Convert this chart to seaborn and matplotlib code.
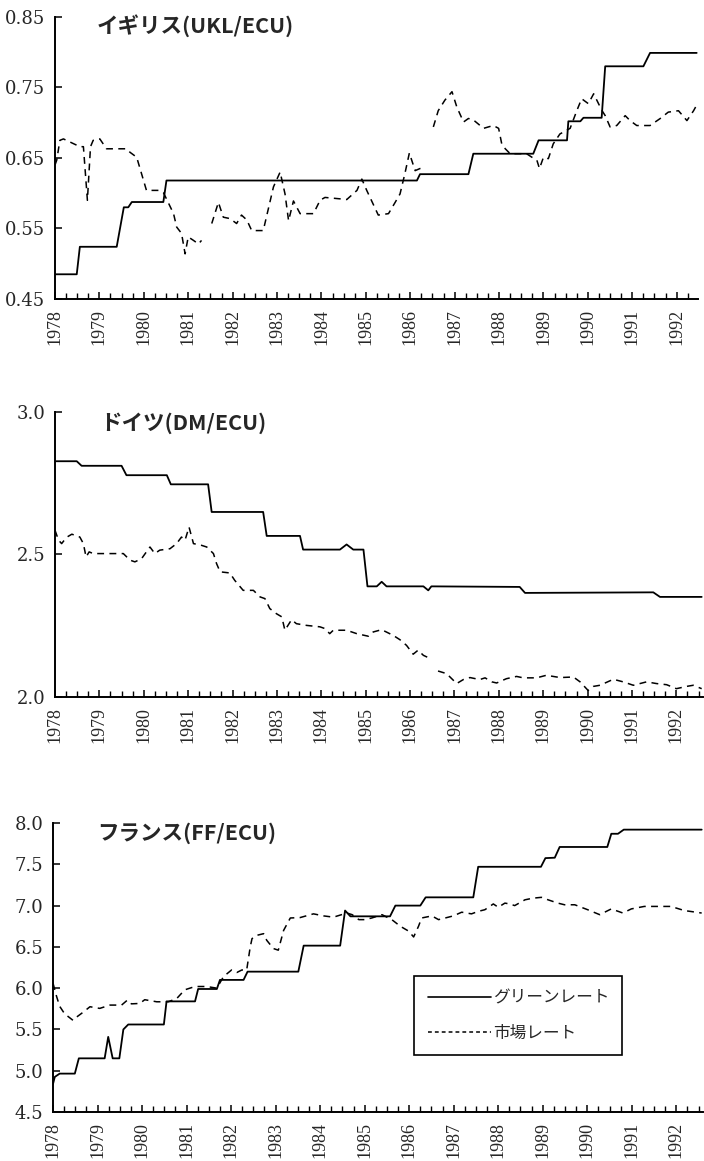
import numpy as np
import pandas as pd
import matplotlib
matplotlib.use("Agg")
import matplotlib.pyplot as plt
from matplotlib.lines import Line2D
from matplotlib.ticker import MultipleLocator, FormatStrFormatter
import seaborn as sns

# イギリス (UKL/ECU) -- None marks a break in the market series
uk_green_t = [1978.0, 1978.49, 1978.56, 1979.39, 1979.55, 1979.65, 1979.73, 1980.44, 1980.51,
              1986.15, 1986.22, 1987.31, 1987.42, 1988.77, 1988.89, 1989.53, 1989.56, 1989.83,
              1989.90, 1990.31, 1990.39, 1991.25, 1991.40, 1992.45]
uk_green_v = [0.485, 0.485, 0.524, 0.524, 0.580, 0.580, 0.5875, 0.5875, 0.618,
              0.618, 0.627, 0.627, 0.656, 0.656, 0.675, 0.675, 0.702, 0.702,
              0.707, 0.707, 0.780, 0.780, 0.799, 0.799]
uk_market_t = [1978.0, 1978.04, 1978.11, 1978.19, 1978.56, 1978.64, 1978.73, 1978.80, 1978.86,
               1979.01, 1979.16, 1979.61, 1979.69, 1979.84, 1980.06, 1980.33, 1980.44, 1980.51,
               1980.67, 1980.74, 1980.85, 1980.93, 1981.00, 1981.12, 1981.23, 1981.30, 1981.40,
               1981.53, 1981.68, 1981.79, 1981.94, 1982.09, 1982.20, 1982.32, 1982.43, 1982.69,
               1982.92, 1983.07, 1983.18, 1983.26, 1983.37, 1983.52, 1983.82, 1983.97, 1984.08,
               1984.42, 1984.57, 1984.80, 1984.91, 1985.02, 1985.28, 1985.51, 1985.66, 1985.77,
               1985.88, 1985.98, 1986.11, 1986.22, 1986.33, 1986.42,
               1986.52, 1986.63, 1986.78, 1986.94, 1987.05, 1987.20, 1987.31, 1987.42, 1987.65,
               1987.87, 1987.99, 1988.06, 1988.14, 1988.25, 1988.62, 1988.74, 1988.85, 1988.91,
               1989.00, 1989.11, 1989.22, 1989.37, 1989.60, 1989.75, 1989.86, 1990.01, 1990.13,
               1990.24, 1990.31, 1990.39, 1990.50, 1990.65, 1990.84, 1990.95, 1991.10, 1991.40,
               1991.63, 1991.81, 1992.04, 1992.23, 1992.38, 1992.45]
uk_market_v = [0.640, 0.647, 0.675, 0.677, 0.666, 0.666, 0.590, 0.666, 0.675,
               0.677, 0.663, 0.663, 0.658, 0.651, 0.604, 0.604, 0.601, 0.592,
               0.571, 0.552, 0.543, 0.514, 0.538, 0.533, 0.528, 0.533, None,
               0.557, 0.587, 0.566, 0.564, 0.557, 0.569, 0.562, 0.547, 0.547,
               0.609, 0.630, 0.599, 0.561, 0.589, 0.571, 0.571, 0.590, 0.594,
               0.592, 0.591, 0.604, 0.620, 0.604, 0.569, 0.571, 0.587, 0.599,
               0.628, 0.657, 0.632, 0.635, 0.637, None,
               0.694, 0.717, 0.732, 0.744, 0.722, 0.701, 0.706, 0.704, 0.692,
               0.696, 0.692, 0.670, 0.663, 0.656, 0.656, 0.651, 0.647, 0.635,
               0.651, 0.649, 0.670, 0.684, 0.692, 0.717, 0.734, 0.727, 0.741,
               0.727, 0.718, 0.710, 0.694, 0.696, 0.710, 0.703, 0.696, 0.696,
               0.706, 0.715, 0.717, 0.703, 0.717, 0.725]

# ドイツ (DM/ECU)
de_green_t = [1978.0, 1978.49, 1978.60, 1979.50, 1979.61, 1980.52, 1980.61, 1981.45, 1981.53,
              1982.69, 1982.77, 1983.52, 1983.59, 1984.42, 1984.57, 1984.72, 1984.95, 1985.04,
              1985.25, 1985.36, 1985.47, 1986.30, 1986.41, 1986.48, 1988.47, 1988.59, 1991.48,
              1991.63, 1992.57]
de_green_v = [2.827, 2.827, 2.811, 2.811, 2.778, 2.778, 2.746, 2.746, 2.649,
              2.649, 2.565, 2.565, 2.517, 2.517, 2.535, 2.517, 2.517, 2.388,
              2.388, 2.404, 2.388, 2.388, 2.374, 2.388, 2.386, 2.365, 2.367,
              2.351, 2.351]
de_market_t = [1978.0, 1978.08, 1978.15, 1978.26, 1978.38, 1978.56, 1978.64, 1978.70, 1978.77,
               1978.86, 1979.54, 1979.69, 1979.80, 1979.95, 1980.06, 1980.14, 1980.25, 1980.36,
               1980.59, 1980.74, 1980.85, 1980.93, 1981.02, 1981.12, 1981.30, 1981.42, 1981.57,
               1981.64, 1981.72, 1981.94, 1982.05, 1982.24, 1982.47, 1982.62, 1982.73, 1982.84,
               1982.99, 1983.11, 1983.18, 1983.33, 1983.44, 1983.67, 1983.97, 1984.08, 1984.19,
               1984.27, 1984.57, 1984.80, 1985.06, 1985.17, 1985.36, 1985.62, 1985.77, 1985.92,
               1986.07, 1986.18, 1986.30, 1986.45, 1986.54,
               1986.63, 1986.82, 1986.90, 1987.05, 1987.20, 1987.35, 1987.57, 1987.69, 1987.84,
               1987.95, 1988.17, 1988.40, 1988.55, 1988.85, 1989.07, 1989.38, 1989.68, 1989.83,
               1990.01, 1990.13, 1990.28, 1990.58, 1990.80, 1991.03, 1991.33, 1991.55, 1991.78,
               1992.00, 1992.23, 1992.38, 1992.57]
de_market_v = [2.585, 2.550, 2.538, 2.560, 2.571, 2.561, 2.538, 2.491, 2.509,
               2.503, 2.503, 2.480, 2.474, 2.485, 2.509, 2.526, 2.503, 2.515,
               2.520, 2.538, 2.561, 2.550, 2.596, 2.538, 2.532, 2.526, 2.503,
               2.468, 2.439, 2.435, 2.409, 2.374, 2.374, 2.351, 2.345, 2.310,
               2.292, 2.281, 2.234, 2.271, 2.257, 2.251, 2.246, 2.240, 2.222,
               2.234, 2.234, 2.222, 2.213, 2.228, 2.236, 2.216, 2.201, 2.181,
               2.150, 2.164, 2.146, 2.135, None,
               2.091, 2.082, 2.070, 2.047, 2.061, 2.068, 2.061, 2.067, 2.053,
               2.049, 2.064, 2.072, 2.067, 2.067, 2.076, 2.068, 2.070, 2.053,
               2.023, 2.037, 2.041, 2.062, 2.053, 2.041, 2.053, 2.047, 2.043,
               2.029, 2.037, 2.041, 2.029]

# フランス (FF/ECU)
fr_green_t = [1978.0, 1978.04, 1978.15, 1978.49, 1978.58, 1979.16, 1979.24, 1979.34, 1979.49,
              1979.58, 1979.69, 1980.49, 1980.55, 1981.19, 1981.26, 1981.68, 1981.75, 1982.28,
              1982.37, 1983.51, 1983.63, 1984.45, 1984.56, 1984.68, 1985.57, 1985.69, 1986.25,
              1986.37, 1987.44, 1987.55, 1988.96, 1989.06, 1989.27, 1989.38, 1990.45, 1990.54,
              1990.69, 1990.82, 1992.57]
fr_green_v = [4.84, 4.925, 4.965, 4.965, 5.15, 5.15, 5.41, 5.15, 5.15,
              5.50, 5.56, 5.56, 5.84, 5.84, 5.99, 5.99, 6.10, 6.10,
              6.20, 6.20, 6.515, 6.515, 6.94, 6.87, 6.87, 7.00, 7.00,
              7.10, 7.10, 7.47, 7.47, 7.575, 7.58, 7.71, 7.71, 7.87,
              7.87, 7.92, 7.92]
fr_market_t = [1978.0, 1978.02, 1978.08, 1978.15, 1978.26, 1978.45, 1978.53, 1978.68, 1978.83,
               1979.05, 1979.28, 1979.54, 1979.67, 1979.76, 1979.95, 1980.06, 1980.33, 1980.59,
               1980.78, 1980.96, 1981.19, 1981.45, 1981.68, 1981.83, 1982.01, 1982.13, 1982.24,
               1982.35, 1982.43, 1982.47, 1982.58, 1982.73, 1982.80, 1982.95, 1983.06, 1983.18,
               1983.33, 1983.55, 1983.85, 1984.08, 1984.30, 1984.60, 1984.72, 1984.87, 1985.01,
               1985.16, 1985.39, 1985.61, 1985.80, 1985.99, 1986.10, 1986.21, 1986.28, 1986.51,
               1986.66, 1986.81, 1986.99, 1987.18, 1987.40, 1987.55, 1987.70, 1987.89, 1988.00,
               1988.15, 1988.26, 1988.37, 1988.60, 1988.78, 1988.97, 1989.12, 1989.34, 1989.49,
               1989.72, 1990.01, 1990.28, 1990.54, 1990.80, 1990.99, 1991.28, 1991.88, 1992.18,
               1992.57]
fr_market_v = [6.06, 6.02, 5.90, 5.78, 5.69, 5.61, 5.65, 5.71, 5.775,
               5.755, 5.795, 5.795, 5.855, 5.81, 5.815, 5.86, 5.835, 5.835,
               5.875, 5.98, 6.02, 6.02, 6.00, 6.14, 6.22, 6.19, 6.22,
               6.22, 6.50, 6.60, 6.64, 6.66, 6.58, 6.48, 6.46, 6.70,
               6.85, 6.855, 6.90, 6.875, 6.86, 6.91, 6.89, 6.83, 6.83,
               6.85, 6.89, 6.83, 6.75, 6.69, 6.62, 6.75, 6.85, 6.875,
               6.83, 6.85, 6.875, 6.92, 6.90, 6.93, 6.95, 7.02, 6.98,
               7.03, 7.02, 7.00, 7.07, 7.09, 7.10, 7.07, 7.03, 7.01,
               7.01, 6.95, 6.89, 6.96, 6.91, 6.96, 6.99, 6.99, 6.94,
               6.91]

titles = ["イギリス(UKL/ECU)", "ドイツ(DM/ECU)", "フランス(FF/ECU)"]
legend_labels = ["グリーンレート", "市場レート"]
years = list(range(1978, 1993))

sns.set_theme(style="ticks")
plt.rcParams["font.family"] = ["DejaVu Serif"]

DASH = (0, (4.5, 3.5))


def market_frame(t, v):
    df = pd.DataFrame({"t": t, "v": pd.to_numeric(pd.Series(v, dtype="float"))})
    df["seg"] = df["v"].isna().cumsum()
    return df.dropna()


fig = plt.figure(figsize=(7.04, 11.61), dpi=100)
panels = [
    dict(rect=[0.0781, 0.7425, 0.9134, 0.2429], xmax=1992.48, ylim=(0.45, 0.85), ystep=0.1, fmt="%.2f",
         green=(uk_green_t, uk_green_v), market=(uk_market_t, uk_market_v), ty=0.968, tx=0.065),
    dict(rect=[0.0781, 0.3997, 0.9205, 0.2455], xmax=1992.6, ylim=(2.0, 3.0), ystep=0.5, fmt="%.1f",
         green=(de_green_t, de_green_v), market=(de_market_t, de_market_v), ty=0.961, tx=0.07),
    dict(rect=[0.0753, 0.0422, 0.9233, 0.2489], xmax=1992.6, ylim=(4.5, 8.0), ystep=0.5, fmt="%.1f",
         green=(fr_green_t, fr_green_v), market=(fr_market_t, fr_market_v), ty=0.965, tx=0.068),
]

for i, p in enumerate(panels):
    ax = fig.add_axes(p["rect"])
    g = pd.DataFrame({"t": p["green"][0], "v": p["green"][1]})
    sns.lineplot(data=g, x="t", y="v", ax=ax, color="black", lw=1.3, estimator=None, sort=False)
    m = market_frame(*p["market"])
    sns.lineplot(data=m, x="t", y="v", units="seg", estimator=None, ax=ax,
                 color="black", lw=1.1, linestyle=DASH)

    ax.set_xlim(1978, p["xmax"])
    ax.set_ylim(*p["ylim"])
    ax.set_xlabel("")
    ax.set_ylabel("")
    sns.despine(ax=ax)
    for s in ["left", "bottom"]:
        ax.spines[s].set_linewidth(1.4)
        ax.spines[s].set_color("black")

    ax.set_xticks(years)
    ax.set_xticklabels([str(y) for y in years], rotation=90, family="Liberation Serif", fontsize=13)
    ax.xaxis.set_minor_locator(MultipleLocator(0.25))
    ax.yaxis.set_major_locator(MultipleLocator(p["ystep"]))
    ax.yaxis.set_major_formatter(FormatStrFormatter(p["fmt"]))
    ax.set_yticks(np.arange(p["ylim"][0], p["ylim"][1] + 1e-9, p["ystep"]))
    ax.tick_params(axis="both", which="major", direction="in", length=5, width=1.1, color="black")
    ax.tick_params(axis="x", which="minor", direction="in", length=4, width=1.0, color="black")
    ax.tick_params(axis="x", which="major", pad=7)
    ax.tick_params(axis="y", which="major", pad=7, labelsize=13)
    for lab in ax.get_yticklabels():
        lab.set_family("DejaVu Serif")

    ax.text(p["tx"], p["ty"], titles[i], transform=ax.transAxes, ha="left", va="center",
            fontsize=15.5, fontweight="bold", family=["Noto Sans CJK JP", "DejaVu Sans"])

    if i == 2:
        handles = [Line2D([], [], color="black", lw=1.2),
                   Line2D([], [], color="black", lw=1.1, linestyle=(0, (2.5, 2)))]
        leg = ax.legend(handles, legend_labels, loc="upper left", bbox_to_anchor=(0.556, 0.47),
                        borderaxespad=0, frameon=True, fancybox=False, framealpha=1,
                        edgecolor="black", handlelength=3.8, handletextpad=0.1,
                        labelspacing=1.1, borderpad=0.8,
                        prop={"family": ["Noto Sans CJK JP", "DejaVu Sans"], "size": 12})
        leg.get_frame().set_linewidth(1.2)

fig.savefig("out.png", dpi=100)
